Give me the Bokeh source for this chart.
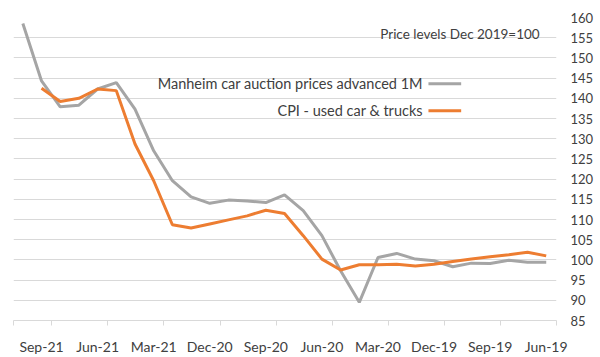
from bokeh.plotting import figure
from bokeh.models import Range1d, FixedTicker, Label, Arrow
from bokeh.embed import file_html
from bokeh.resources import INLINE

months = ["Jun-19", "Jul-19", "Aug-19", "Sep-19", "Oct-19", "Nov-19", "Dec-19",
          "Jan-20", "Feb-20", "Mar-20", "Apr-20", "May-20", "Jun-20", "Jul-20",
          "Aug-20", "Sep-20", "Oct-20", "Nov-20", "Dec-20", "Jan-21", "Feb-21",
          "Mar-21", "Apr-21", "May-21", "Jun-21", "Jul-21", "Aug-21", "Sep-21", "Oct-21"]
manheim = [99.4, 99.4, 99.9, 99.1, 99.2, 98.3, 99.8, 100.2, 101.6, 100.6, 89.5,
           97.3, 106.0, 112.2, 116.1, 114.2, 114.6, 114.8, 114.0, 115.6, 119.6,
           127.0, 137.3, 143.9, 142.3, 138.3, 137.9, 144.3, 158.5]
cpi = [101.0, 101.9, 101.3, 100.8, 100.2, 99.6, 98.9, 98.5, 98.9, 98.8, 98.8,
       97.5, 100.2, 106.0, 111.5, 112.3, 110.9, 109.9, 108.9, 107.9, 108.7,
       119.6, 128.7, 141.9, 142.3, 140.0, 139.2, 142.5]
tick_labels = ["Jun-19", "Sep-19", "Dec-19", "Mar-20", "Jun-20", "Sep-20",
               "Dec-20", "Mar-21", "Jun-21", "Sep-21"]
y_ticks = list(range(85, 161, 5))

x_m = list(range(len(manheim)))
x_c = list(range(len(cpi)))

FONT = "Lato"
TXT = "#404040"
GRID = "#d9d9d9"

p = figure(frame_width=543, frame_height=303, output_backend="svg",
           toolbar_location=None, y_axis_location="right",
           x_range=Range1d(28.5, -0.55), y_range=Range1d(85, 160),
           min_border_left=13, min_border_top=17, min_border_right=44,
           min_border_bottom=37)
p.outline_line_color = None
p.background_fill_color = "white"

p.line(x_m, manheim, line_color="#a5a5a5", line_width=3)
p.line(x_c, cpi, line_color="#ed7d31", line_width=3)

tick_pos = [months.index(t) for t in tick_labels]
minor = [-0.55 + 3 * k for k in range(10)] + [28.5]
p.xaxis.ticker = FixedTicker(ticks=tick_pos, minor_ticks=minor)
p.xaxis.major_label_overrides = {i: months[i] for i in tick_pos}
p.xaxis.major_tick_line_color = None
p.xaxis.minor_tick_line_color = GRID
p.xaxis.minor_tick_out = 5
p.xaxis.minor_tick_in = 0
p.xaxis.axis_line_color = GRID
p.xaxis.major_label_text_font = FONT
p.xaxis.major_label_text_font_size = "14px"
p.xaxis.major_label_text_color = TXT
p.xaxis.major_label_standoff = 11

p.yaxis.ticker = FixedTicker(ticks=y_ticks)
p.yaxis.axis_line_color = None
p.yaxis.major_tick_line_color = None
p.yaxis.minor_tick_line_color = None
p.yaxis.major_label_text_font = FONT
p.yaxis.major_label_text_font_size = "13px"
p.yaxis.major_label_text_color = TXT
p.yaxis.major_label_standoff = 8

p.xgrid.grid_line_color = None
p.ygrid.grid_line_color = GRID
p.ygrid.ticker = FixedTicker(ticks=y_ticks)

p.add_layout(Label(x=0.35, y=156.0, text="Price levels Dec 2019=100",
                   text_align="right", text_baseline="middle",
                   text_font=FONT, text_font_size="13.5px", text_color=TXT))

legend_items = [("Manheim car auction prices advanced 1M", "#a5a5a5", 143.6),
                ("CPI - used car & trucks", "#ed7d31", 136.9)]
for txt, col, yy in legend_items:
    p.add_layout(Arrow(x_start=6.3, x_end=4.55, y_start=yy, y_end=yy,
                       end=None, start=None, line_color=col, line_width=3))
    p.add_layout(Label(x=6.6, y=yy, text=txt, text_align="right",
                       text_baseline="middle", text_font=FONT,
                       text_font_size="14.5px", text_color=TXT))

open("out.html", "w").write(file_html(p, INLINE))
